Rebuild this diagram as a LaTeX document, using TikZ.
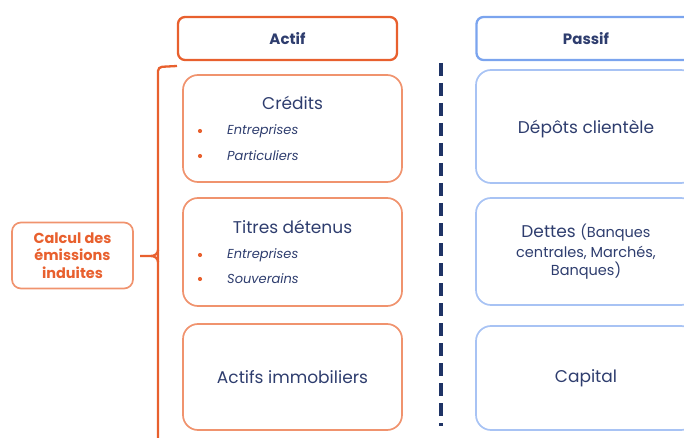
\documentclass[tikz,border=0pt]{standalone}
\usepackage{fontspec}
\setmainfont{Poppins}
\definecolor{navy}{HTML}{2E3D6E}
\definecolor{dashnavy}{HTML}{1F3466}
\definecolor{orhdr}{HTML}{E8602E}
\definecolor{orbox}{HTML}{F0936E}
\definecolor{bluehdr}{HTML}{7BA4EE}
\definecolor{bluebox}{HTML}{A8C3F4}
\begin{document}
\begin{tikzpicture}[x=1pt,y=-1pt,
  hdrA/.style={draw=orhdr,line width=2.3pt,rounded corners=7pt,minimum width=219pt,minimum height=43pt,inner sep=0pt,text=navy,font=\bfseries\fontsize{15}{18}\selectfont},
  hdrP/.style={hdrA,draw=bluehdr},
  boxA/.style={draw=orbox,line width=1.7pt,rounded corners=15pt,minimum width=219pt,inner sep=0pt,text=navy,font=\fontsize{17}{20}\selectfont,align=center},
  boxP/.style={boxA,draw=bluebox,minimum width=220pt},
  item/.style={anchor=west,text=navy,inner sep=0pt,font=\itshape\fontsize{13}{15}\selectfont},
  ttl/.style={text=navy,inner sep=0pt,font=\fontsize{17}{20}\selectfont},
  dot/.style={circle,fill=orhdr,inner sep=0pt,minimum size=4.2pt},
  brace/.style={draw=orhdr,line width=2.3pt}
]
\useasboundingbox (0,0) rectangle (684,438);
\clip (0,0) rectangle (684,438);
% headers
\node[hdrA] (actif) at (287.5,38.5) {Actif};
\node[hdrP] (passif) at (586,38.5) {Passif};
% actif boxes
\node[boxA,minimum height=107pt] (credits) at (292.5,128.5) {};
\node[ttl] (creditsT) at (292.5,103) {Crédits};
\node[dot] (d1) at (200,131) {};
\node[item] (c1) at (227,131) {Entreprises};
\node[dot] (d2) at (200,156) {};
\node[item] (c2) at (227,156) {Particuliers};
\node[boxA,minimum height=108pt] (titres) at (292.5,252) {};
\node[ttl] (titresT) at (292.5,227) {Titres détenus};
\node[dot] (d3) at (200,255) {};
\node[item] (t1) at (227,255) {Entreprises};
\node[dot] (d4) at (200,279) {};
\node[item] (t2) at (227,279) {Souverains};
\node[boxA,minimum height=106pt] (immo) at (292.5,377) {Actifs immobiliers};
% passif boxes
\node[boxP,minimum height=113pt] (depots) at (586,126.5) {};
\node[ttl] (depotsT) at (586,129) {Dépôts clientèle};
\node[boxP,minimum height=107pt] (dettes) at (586,251.5) {Dettes {\fontsize{14.5}{19}\selectfont(Banques}\\[0pt]{\fontsize{14.5}{19}\selectfont centrales, Marchés,}\\[-2pt]{\fontsize{14.5}{19}\selectfont Banques)}};
\node[boxP,minimum height=104pt] (capital) at (586,378) {Capital};
% dashed separator
\coordinate (s1) at (441,63);
\coordinate (s2) at (441,426);
\draw[dashnavy,line width=3.2pt,dash pattern=on 13pt off 7pt] (s1) -- (s2);
% brace
\coordinate (b1) at (177,66);
\coordinate (b2) at (158,67);
\coordinate (b3) at (158,440);
\draw[brace,rounded corners=4pt] (b1) -- (b2) -- (b3);
\node[draw=orbox,line width=1.7pt,rounded corners=9pt,minimum width=121pt,minimum height=66pt,inner sep=0pt,align=center,text=orhdr,font=\bfseries\fontsize{14.5}{17.5}\selectfont] (calcul) at (72.5,255.5) {Calcul des\\émissions\\induites};
\coordinate (tip) at (140,256);
\draw[brace] (tip) -- (151,256) to[out=0,in=90] (158,262);
\draw[brace] (151,256) to[out=0,in=-90] (158,250);
\end{tikzpicture}
\end{document}
